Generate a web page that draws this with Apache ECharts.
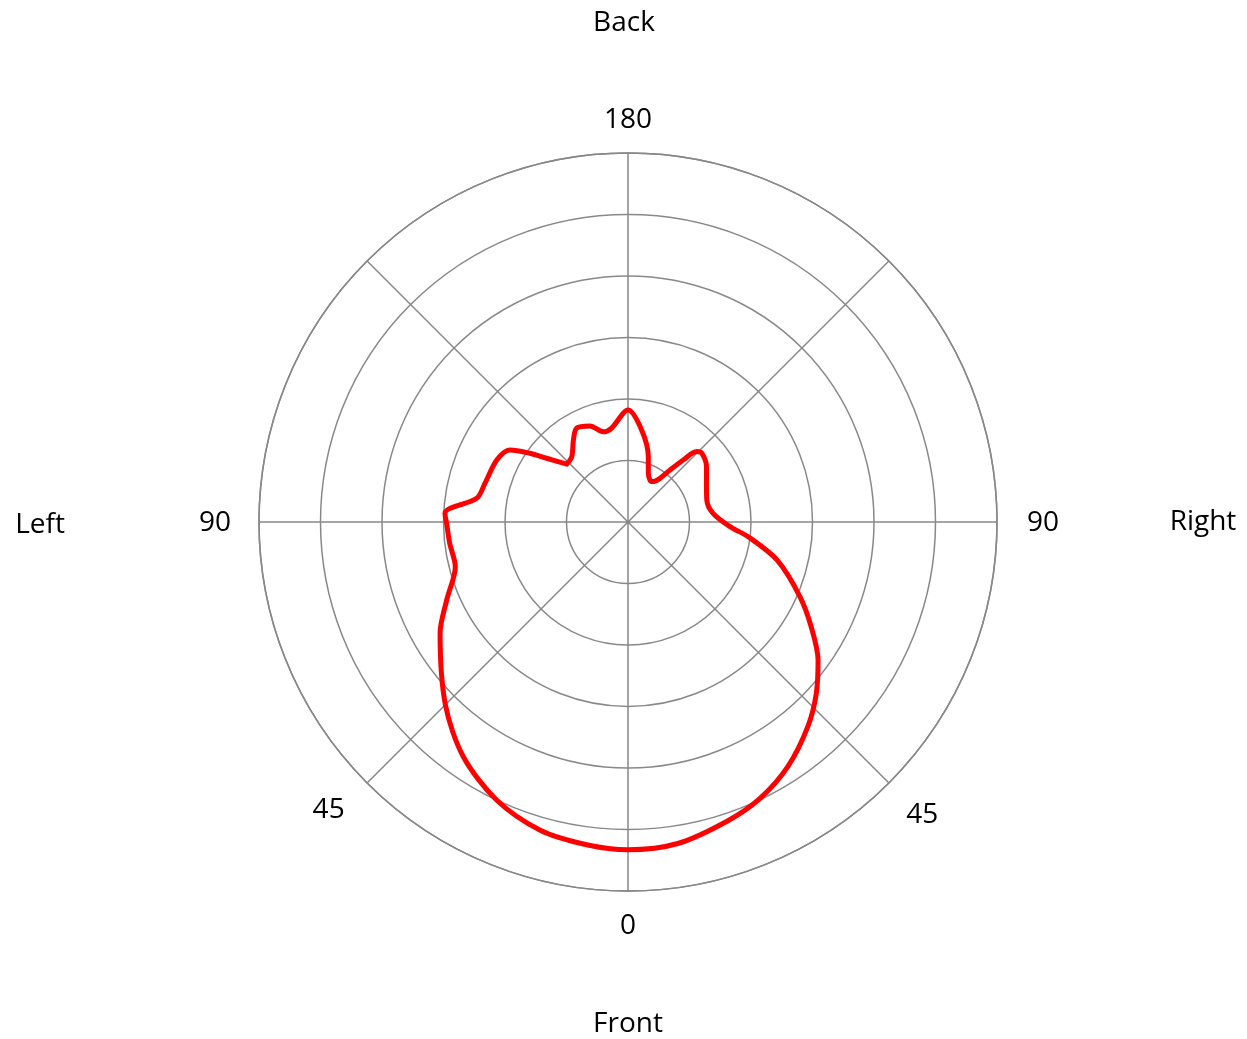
<!DOCTYPE html>
<html>
<head>
<meta charset="utf-8">
<script src="https://cdn.jsdelivr.net/npm/echarts@6/dist/echarts.min.js"></script>
<style>
html,body{margin:0;padding:0;background:#fff;}
#chart{width:1247px;height:1039px;}
</style>
</head>
<body>
<div id="chart"></div>
<script>
// Direction angle in degrees (0 = Front, 90 = Right, 180 = Back, 270 = Left).
// The trace starts at the sharp notch near 226.6 deg and goes once around.
const angles = [226.6, 231.9, 235, 238.6, 244.7, 254.9, 261.1, 265.6, 267.3, 270.4,
  276.8, 284.5, 293.3, 300.6, 315, 324.9, 334.7, 344.1, 352.7,
  0, 8.8, 18.6, 25.6, 33.2, 41.3, 47.7, 54, 60.1, 66.5, 75.7, 83, 87.4, 95.8, 105.6, 115.2, 125.1,
  133, 135.7, 138.3, 141, 143.8, 148.5, 152.4, 157.4, 162.7, 171.5, 180,
  182.5, 189.9, 195.3, 201.6, 208.7, 213.7, 220.8, 226.6];
// Radius values (ring units)
const radii = [1.37, 1.68, 1.95, 2.25, 2.36, 2.41, 2.49, 2.9, 2.98, 2.95,
  2.92, 2.9, 3.21, 3.55, 4.20, 4.66, 5.0, 5.21, 5.29,
  5.33, 5.29, 5.12, 4.98, 4.75, 4.43, 4.14, 3.82, 3.44, 3.05, 2.5, 1.97, 1.66, 1.39, 1.33, 1.41, 1.56,
  1.64, 1.6, 1.35, 1.09, 0.88, 0.77, 0.77, 0.86, 1.11, 1.51, 1.82,
  1.77, 1.55, 1.52, 1.68, 1.74, 1.6, 1.40, 1.37];
// Angle tick labels
const angleTicks = [0, 45, 90, 135, 180, 225, 270, 315];
const angleTickLabels = ['0', '45', '90', '', '180', '', '90', '45'];
// Direction labels
const directionNames = ['Front', 'Right', 'Back', 'Left'];

const FONT = '"Open Sans", "Noto Sans", sans-serif';
const GRID = '#888888';
const FS = 28;

const lineData = angles.map((a, i) => [radii[i], a]);

const chart = echarts.init(document.getElementById('chart'), null, {renderer: 'canvas'});

const richKeys = {0: 'b', 45: 'rb', 90: 'r', 180: 't', 270: 'l', 315: 'lb'};
function rs(pad) { return {fontFamily: FONT, fontSize: FS, color: '#000', padding: pad}; }

chart.setOption({
  backgroundColor: '#ffffff',
  animation: false,
  polar: {center: [628, 522], radius: 369},
  angleAxis: {
    type: 'value', min: 0, max: 360, interval: 45,
    startAngle: 270, clockwise: false,
    axisLine: {show: true, lineStyle: {color: GRID, width: 1.5}},
    axisTick: {show: false},
    splitLine: {show: true, lineStyle: {color: GRID, width: 1.5}},
    axisLabel: {
      show: true, margin: 19, color: '#000', fontFamily: FONT, fontSize: FS,
      formatter: function (v) {
        const idx = angleTicks.indexOf(v);
        if (idx < 0) return '';
        const txt = angleTickLabels[idx];
        if (!txt) return '';
        return '{' + richKeys[v] + '|' + txt + '}';
      },
      rich: {
        b: rs([2, 0, 0, 0]),
        t: rs([0, 0, 0, 0]),
        l: rs([3, 9, 0, 0]),
        r: rs([3, 0, 0, 11]),
        lb: rs([0, 9, 0, 0]),
        rb: rs([5, 0, 0, 4])
      }
    }
  },
  radiusAxis: {
    type: 'value', min: 0, max: 6, interval: 1,
    axisLine: {show: false}, axisTick: {show: false}, axisLabel: {show: false},
    splitLine: {show: true, lineStyle: {color: GRID, width: 1.5}}
  },
  series: [{
    type: 'line', coordinateSystem: 'polar', data: lineData,
    smooth: 0.3, showSymbol: false, symbol: 'none',
    lineStyle: {color: '#ff0000', width: 5, join: 'round', cap: 'round'}, z: 5
  }],
  graphic: [
    {type: 'text', x: 628, y: 1024, style: {text: directionNames[0], font: FS + 'px ' + FONT, fill: '#000', align: 'center', verticalAlign: 'middle'}},
    {type: 'text', x: 1203, y: 522, style: {text: directionNames[1], font: FS + 'px ' + FONT, fill: '#000', align: 'center', verticalAlign: 'middle'}},
    {type: 'text', x: 624, y: 23, style: {text: directionNames[2], font: FS + 'px ' + FONT, fill: '#000', align: 'center', verticalAlign: 'middle'}},
    {type: 'text', x: 40, y: 525, style: {text: directionNames[3], font: FS + 'px ' + FONT, fill: '#000', align: 'center', verticalAlign: 'middle'}}
  ]
});
</script>
</body>
</html>
